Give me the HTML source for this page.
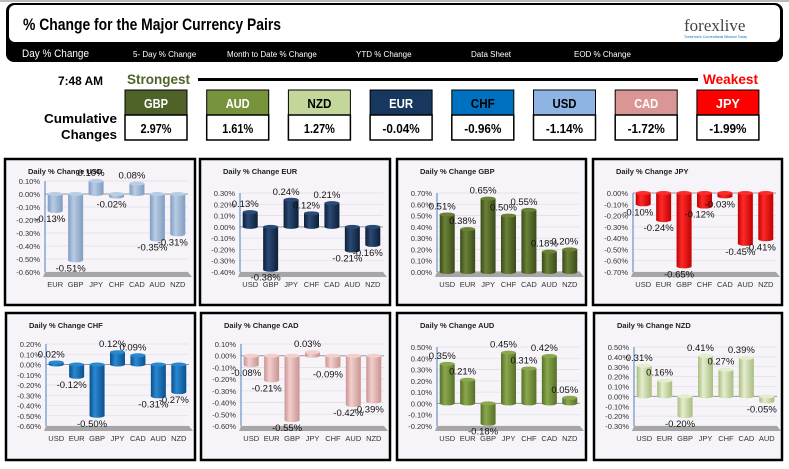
<!DOCTYPE html>
<html><head><meta charset="utf-8">
<style>
body{margin:0;width:789px;height:464px;background:#fff;overflow:hidden;font-family:"Liberation Sans",sans-serif;}
.narrow{font-family:"Liberation Sans Narrow","Liberation Sans",sans-serif;}
</style></head>
<body>
<svg id="root" width="789" height="464" viewBox="0 0 789 464" xmlns="http://www.w3.org/2000/svg">
<defs id="defs"></defs>
<rect x="0" y="0" width="789" height="2" fill="#bbb"/>
<g>
<rect x="6" y="3" width="777" height="59" rx="8" fill="#000"/>
<rect x="9" y="5" width="771" height="37" rx="6" fill="#fff"/>
<text x="23" y="30" font-size="17" font-weight="bold" class="narrow" textLength="258" lengthAdjust="spacingAndGlyphs">% Change for the Major Currency Pairs</text>
<text x="684" y="31" font-family="Liberation Serif,serif" font-size="17" fill="#444">forexlive</text>
<text x="684" y="38" font-size="3.5" fill="#0070c0">Tomorrow's Conventional Wisdom Today</text>
<text x="22" y="57" font-size="11" fill="#fff" textLength="67" lengthAdjust="spacingAndGlyphs">Day % Change</text>
<text x="133" y="57" font-size="8" fill="#fff">5- Day % Change</text>
<text x="227" y="57" font-size="8" fill="#fff">Month to Date % Change</text>
<text x="356" y="57" font-size="8" fill="#fff">YTD % Change</text>
<text x="471" y="57" font-size="8" fill="#fff">Data Sheet</text>
<text x="574" y="57" font-size="8" fill="#fff">EOD % Change</text>
</g>
<g>
<text x="58" y="85" font-size="12" font-weight="bold" textLength="45" lengthAdjust="spacingAndGlyphs">7:48 AM</text>
<text x="127" y="84" font-size="14" font-weight="bold" fill="#4f6228" textLength="63" lengthAdjust="spacingAndGlyphs">Strongest</text>
<rect x="198" y="78" width="500" height="3" fill="#000"/>
<text x="703" y="84" font-size="14" font-weight="bold" fill="#ff0000" textLength="55" lengthAdjust="spacingAndGlyphs">Weakest</text>
<text x="44" y="123" font-size="13" font-weight="bold" textLength="73" lengthAdjust="spacingAndGlyphs">Cumulative</text>
<text x="61" y="139" font-size="13" font-weight="bold" textLength="56" lengthAdjust="spacingAndGlyphs">Changes</text>
</g>
<g id="boxes"></g>
<g id="panels"></g>
</svg>
<script>
const NS="http://www.w3.org/2000/svg";
const boxCurrencies=["GBP","AUD","NZD","EUR","CHF","USD","CAD","JPY"];
const boxValues=[2.97,1.61,1.27,-0.04,-0.96,-1.14,-1.72,-1.99];
const boxColors=["#4f6228","#77933c","#c4d79b","#17375e","#0070c0","#8db4e2","#da9694","#ff0000"];
const boxTextColors=["#fff","#fff","#000","#fff","#000","#000","#fff","#fff"];

const usdCats=["EUR","GBP","JPY","CHF","CAD","AUD","NZD"];
const usdVals=[-0.13,-0.51,0.10,-0.02,0.08,-0.35,-0.31];
const usdTicks=[0.10,0.00,-0.10,-0.20,-0.30,-0.40,-0.50,-0.60];
const eurCats=["USD","GBP","JPY","CHF","CAD","AUD","NZD"];
const eurVals=[0.13,-0.38,0.24,0.12,0.21,-0.21,-0.16];
const eurTicks=[0.30,0.20,0.10,0.00,-0.10,-0.20,-0.30,-0.40];
const gbpCats=["USD","EUR","JPY","CHF","CAD","AUD","NZD"];
const gbpVals=[0.51,0.38,0.65,0.50,0.55,0.18,0.20];
const gbpTicks=[0.70,0.60,0.50,0.40,0.30,0.20,0.10,0.00];
const jpyCats=["USD","EUR","GBP","CHF","CAD","AUD","NZD"];
const jpyVals=[-0.10,-0.24,-0.65,-0.12,-0.03,-0.45,-0.41];
const jpyTicks=[0.00,-0.10,-0.20,-0.30,-0.40,-0.50,-0.60,-0.70];
const chfCats=["USD","EUR","GBP","JPY","CAD","AUD","NZD"];
const chfVals=[0.02,-0.12,-0.50,0.12,0.09,-0.31,-0.27];
const chfTicks=[0.20,0.10,0.00,-0.10,-0.20,-0.30,-0.40,-0.50,-0.60];
const cadCats=["USD","EUR","GBP","JPY","CHF","AUD","NZD"];
const cadVals=[-0.08,-0.21,-0.55,0.03,-0.09,-0.42,-0.39];
const cadTicks=[0.10,0.00,-0.10,-0.20,-0.30,-0.40,-0.50,-0.60];
const audCats=["USD","EUR","GBP","JPY","CHF","CAD","NZD"];
const audVals=[0.35,0.21,-0.18,0.45,0.31,0.42,0.05];
const audTicks=[0.50,0.40,0.30,0.20,0.10,0.00,-0.10,-0.20];
const nzdCats=["USD","EUR","GBP","JPY","CHF","CAD","AUD"];
const nzdVals=[0.31,0.16,-0.20,0.41,0.27,0.39,-0.05];
const nzdTicks=[0.50,0.40,0.30,0.20,0.10,0.00,-0.10,-0.20,-0.30];

const panels=[
 {cur:"USD",cats:usdCats,vals:usdVals,ticks:usdTicks,L:5,T:159,W:190,H:146,top:22,c:"#b8cce4",d:"#7f9cc0"},
 {cur:"EUR",cats:eurCats,vals:eurVals,ticks:eurTicks,L:200,T:159,W:190,H:146,top:34,c:"#2a4a75",d:"#0d1f38"},
 {cur:"GBP",cats:gbpCats,vals:gbpVals,ticks:gbpTicks,L:397,T:159,W:189,H:146,top:34,c:"#6a8236",d:"#3a4a1c"},
 {cur:"JPY",cats:jpyCats,vals:jpyVals,ticks:jpyTicks,L:593,T:159,W:189,H:146,top:34,c:"#ff2a2a",d:"#c00000"},
 {cur:"CHF",cats:chfCats,vals:chfVals,ticks:chfTicks,L:6,T:313,W:189,H:147,top:31,c:"#2a88d0",d:"#0a508e"},
 {cur:"CAD",cats:cadCats,vals:cadVals,ticks:cadTicks,L:201,T:313,W:189,H:147,top:31,c:"#f2cfcd",d:"#c99391"},
 {cur:"AUD",cats:audCats,vals:audVals,ticks:audTicks,L:397,T:313,W:189,H:147,top:34,c:"#8aa84c",d:"#56702a"},
 {cur:"NZD",cats:nzdCats,vals:nzdVals,ticks:nzdTicks,L:594,T:313,W:188,H:147,top:34,c:"#e4edcf",d:"#a9bd7e"}
];

function mk(tag,attrs,parent){const e=document.createElementNS(NS,tag);for(const k in attrs)e.setAttribute(k,attrs[k]);parent.appendChild(e);return e;}
const defs=document.getElementById('defs');
const boxes=document.getElementById('boxes');
boxCurrencies.forEach((c,i)=>{
 const x=125+i*81.7;
 const h=mk('rect',{x:x,y:90,width:62,height:25,fill:boxColors[i],stroke:'#000','stroke-width':1},boxes);
 
 
 const ht=mk('text',{x:x+31,y:108,'font-size':13,'font-weight':'bold','text-anchor':'middle',fill:boxTextColors[i],textLength:24,lengthAdjust:'spacingAndGlyphs'},boxes);
 ht.textContent=c;
 
 
 const v=mk('rect',{x:x,y:115,width:62,height:25,fill:'#fff',stroke:'#000','stroke-width':1.5},boxes);
 
 
 const txt=boxValues[i].toFixed(2)+'%';
 const vt=mk('text',{x:x+31,y:133,'font-size':13,'font-weight':'bold','text-anchor':'middle',textLength:txt.length*6.2,lengthAdjust:'spacingAndGlyphs'},boxes);
 vt.textContent=txt;
 
 
});

const pg=document.getElementById('panels');
panels.forEach((p,pi)=>{
 const g=mk('g',{},pg);
 
 
 const gid='grad'+pi;
 const lg=mk('linearGradient',{id:gid,x1:0,x2:1,y1:0,y2:0},defs);
 mk('stop',{offset:'0','stop-color':p.d},lg);
 mk('stop',{offset:'0.35','stop-color':p.c},lg);
 mk('stop',{offset:'1','stop-color':p.d},lg);
 const bg=mk('rect',{x:p.L,y:p.T,width:p.W,height:p.H,fill:'#f6f4f8',stroke:'#000','stroke-width':2.5},g);
 
 
 const t=mk('text',{x:p.L+23,y:p.T+15,'font-size':7.5,'font-weight':'bold',fill:'#222'},g);
 t.textContent='Daily % Change '+p.cur;
 
 
 const ax=p.L+40, pr=p.L+183, yT=p.T+p.top, yB=p.T+113;
 const mx=p.ticks[0], mn=p.ticks[p.ticks.length-1];
 const yS=v=>yT+(mx-v)/(mx-mn)*(yB-yT);
 const step=(pr-ax)/p.cats.length;
 const xS=i=>ax+(i+0.5)*step;
 p.ticks.forEach(tv=>{
  const y=yS(tv);
  const gl=mk('line',{x1:ax,x2:pr,y1:y,y2:y,stroke:tv===0?'#999':'#e2e0e4','stroke-width':tv===0?1:0.8},g);
  
  
  const tl=mk('text',{x:ax-5,y:y+3,'font-size':7.5,'text-anchor':'end',fill:'#333'},g);
  tl.textContent=tv.toFixed(2)+'%';
  
  
 });
 const fl=mk('polygon',{points:`${ax},${yB} ${pr},${yB} ${pr+4},${yB+5} ${ax-2},${yB+5}`,fill:'#a6a6a6'},g);
 
 
 const axl=mk('line',{x1:ax,x2:ax,y1:yT,y2:yB,stroke:'#4f81bd','stroke-width':1},g);
 
 
 const y0=yS(0), bw=15;
 p.vals.forEach((v,i)=>{
  const cx=xS(i), y1=yS(v);
  const top=Math.min(y0,y1), bot=Math.max(y0,y1);
  const b=mk('rect',{x:cx-bw/2,y:top,width:bw,height:Math.max(bot-top,1),fill:`url(#${gid})`},g);
  
  
  const e1=mk('ellipse',{cx:cx,cy:bot,rx:bw/2,ry:2,fill:`url(#${gid})`},g);
  
  
  const e2=mk('ellipse',{cx:cx,cy:top,rx:bw/2,ry:2,fill:p.c},g);
  
  
  const lb=mk('text',{x:cx-5,y:v>=0?top-5:bot+11,'font-size':9.5,'text-anchor':'middle',fill:'#111'},g);
  lb.textContent=v.toFixed(2)+'%';
  
  
  const cl=mk('text',{x:cx,y:yB+15,'font-size':7.5,'text-anchor':'middle',fill:'#333'},g);
  cl.textContent=p.cats[i];
  
  
 });
});
</script>
</body></html>
